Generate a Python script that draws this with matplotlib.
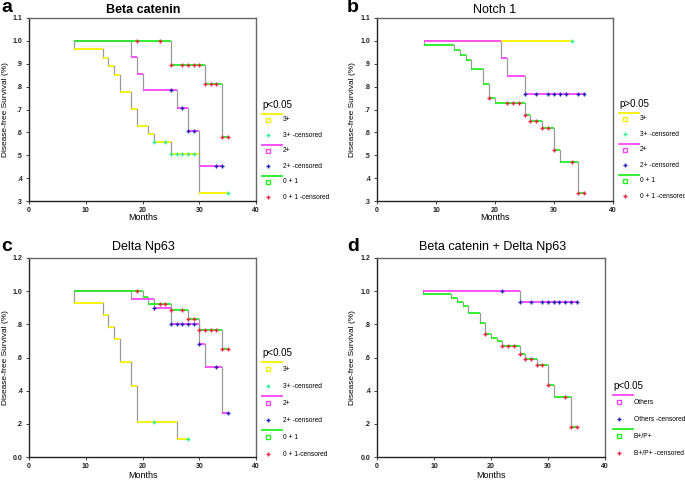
import matplotlib
matplotlib.use("Agg")
import matplotlib.pyplot as plt
from matplotlib.lines import Line2D

plt.rcParams['font.family'] = ['Liberation Sans', 'DejaVu Sans']

# dados: tempos dos eventos, sobrevida depois de cada evento, tempos censurados
inicio = 8

# a - Beta catenin
aAmareloT = [8, 13, 14, 15, 16, 18, 19, 21, 22, 25, 30]
aAmareloS = [0.963, 0.926, 0.889, 0.852, 0.778, 0.704, 0.630, 0.593, 0.556, 0.505, 0.337]
aAmareloC = [22, 24, 25, 26, 27, 28, 29, 35]
aRosaT = [18, 19, 20, 26, 28, 30]
aRosaS = [0.929, 0.857, 0.786, 0.707, 0.606, 0.453]
aRosaC = [25, 27, 28, 29, 33, 34]
aVerdeT = [25, 31, 34]
aVerdeS = [0.895, 0.812, 0.580]
aVerdeC = [19, 23, 25, 27, 28, 29, 30, 31, 32, 33, 34, 35]

# b - Notch 1
bAmareloT = []
bAmareloS = []
bAmareloC = [33]
bRosaT = [21, 22, 25]
bRosaS = [0.923, 0.846, 0.769]
bRosaC = [25, 27, 29, 30, 31, 32, 34, 35]
bVerdeT = [8, 13, 14, 15, 16, 18, 19, 20, 25, 26, 28, 30, 31, 34]
bVerdeS = [0.980, 0.959, 0.938, 0.917, 0.875, 0.812, 0.750, 0.728, 0.677, 0.651, 0.618, 0.523, 0.471, 0.336]
bVerdeC = [19, 22, 23, 24, 25, 26, 27, 28, 29, 30, 33, 34, 35]

# c - Delta Np63
cAmareloT = [8, 13, 14, 15, 16, 18, 19, 26]
cAmareloS = [0.929, 0.857, 0.786, 0.714, 0.571, 0.429, 0.214, 0.107]
cAmareloC = [22, 28]
cRosaT = [18, 22, 25, 30, 31, 34]
cRosaS = [0.950, 0.900, 0.800, 0.680, 0.544, 0.267]
cRosaC = [22, 25, 26, 27, 28, 29, 30, 33, 35]
cVerdeT = [20, 21, 25, 28, 30, 34]
cVerdeS = [0.963, 0.925, 0.885, 0.830, 0.763, 0.654]
cVerdeC = [19, 23, 24, 25, 27, 28, 29, 30, 31, 32, 33, 34, 35]

# d - Beta catenin + Delta Np63
dRosaT = [25]
dRosaS = [0.933]
dRosaC = [22, 25, 27, 29, 30, 31, 32, 33, 34, 35]
dVerdeT = [8, 13, 14, 15, 16, 18, 19, 20, 21, 22, 25, 26, 28, 30, 31, 34]
dVerdeS = [0.980, 0.957, 0.935, 0.913, 0.870, 0.807, 0.742, 0.718, 0.698, 0.671, 0.622, 0.593, 0.554, 0.432, 0.359, 0.178]
dVerdeC = [19, 22, 23, 24, 25, 26, 27, 28, 29, 30, 33, 34, 35]

# nomes da legenda (grupo, grupo censurado)
legendaABC = [('3+', '3+ -censored'), ('2+', '2+ -censored'), ('0 + 1', '0 + 1 -censored')]
legendaC = [('3+', '3+ -censored'), ('2+', '2+ -censored'), ('0 + 1', '0 + 1-censored')]
legendaD = [('Others', 'Others -censored'), ('B+/P+', 'B+/P+ -censored')]

AMARELO = '#f2f200'
ROSA = '#ff44ff'
VERDE = '#22ee22'
CIANO = '#33ee99'
AZUL = '#2222bb'
VERMELHO = '#ee2244'
CINZA = '#9a9a9a'

W, H = 685, 480


# converte pixel da imagem para fração da figura
def fx(x):
    return x / W


def fy(y):
    return 1 - y / H


# desenha uma curva de Kaplan-Meier em degraus
def curva(ax, tempos, sobrevida, censura, cor, corCensura):
    fim = max(list(tempos) + list(censura))
    xs = [inicio] + list(tempos)
    ys = [1.0] + list(sobrevida)
    for i in range(len(xs)):
        proximo = xs[i + 1] if i + 1 < len(xs) else fim
        ax.plot([xs[i], proximo], [ys[i], ys[i]], color=cor, lw=1.3, solid_capstyle='butt', zorder=3)
        if i > 0:
            ax.plot([xs[i], xs[i]], [ys[i - 1], ys[i]], color=CINZA, lw=0.9, zorder=2)
    for c in censura:
        s = 1.0
        for t, v in zip(tempos, sobrevida):
            if t <= c:
                s = v
        ax.plot(c, s, marker='+', color=corCensura, ms=3.3, mew=1.0, zorder=4)


def eixo(rect, ymin, ymax, yticks, ylabels, titulo, letra, negrito, xlabelY, tituloXY, letraXY, ylabelX):
    ax = fig.add_axes(rect)
    ax.set_xlim(0, 40)
    ax.set_ylim(ymin, ymax)
    ax.set_xticks([0, 10, 20, 30, 40])
    ax.set_yticks(yticks)
    ax.set_yticklabels(ylabels)
    ax.tick_params(labelsize=5, length=2.5, width=0.6, pad=2, colors='#222222')
    for lab in ax.get_xticklabels() + ax.get_yticklabels():
        lab.set_fontweight('bold')
    for lado in ['left', 'bottom']:
        ax.spines[lado].set_color('#222222')
        ax.spines[lado].set_linewidth(1.0)
    for lado in ['top', 'right']:
        ax.spines[lado].set_color('#666666')
        ax.spines[lado].set_linewidth(1.0)
    pos = ax.get_position()
    fig.text(fx(ylabelX), pos.y0 + pos.height / 2, 'Disease-free Survival (%)', fontsize=6,
             rotation=90, ha='center', va='center')
    fig.text(pos.x0 + pos.width / 2, fy(xlabelY), 'Months', fontsize=6.5, ha='center', va='center')
    fig.text(fx(tituloXY[0]), fy(tituloXY[1]), titulo, fontsize=9,
             fontweight='bold' if negrito else 'normal', ha='center', va='center')
    fig.text(fx(letraXY[0]), fy(letraXY[1]), letra, fontsize=14, fontweight='bold', ha='center', va='center')
    return ax


# legenda no estilo SPSS
def legenda(x0, y0, ptexto, nomes, cores, passo):
    fig.text(fx(x0), fy(y0), ptexto, fontsize=7, va='center', ha='left')
    y = y0 + passo * 0.55
    for (nome, nomeCensura), (cor, corCensura) in zip(nomes, cores):
        fig.add_artist(Line2D([fx(x0), fx(x0 + 20)], [fy(y), fy(y)], color=cor, lw=1.3))
        y += passo * 0.4
        fig.add_artist(Line2D([fx(x0 + 6)], [fy(y)], marker='s', ms=2.5, mfc='none', mec=cor, mew=1))
        fig.text(fx(x0 + 21), fy(y), nome, fontsize=4.8, va='center', ha='left')
        y += passo
        fig.add_artist(Line2D([fx(x0 + 6)], [fy(y)], marker='+', ms=3.3, color=corCensura, mew=1))
        fig.text(fx(x0 + 21), fy(y), nomeCensura, fontsize=4.8, va='center', ha='left')
        y += passo * 0.6


fig = plt.figure(figsize=(6.85, 4.8), dpi=100)

ticksA = [0.3, 0.4, 0.5, 0.6, 0.7, 0.8, 0.9, 1.0, 1.1]
labelsA = ['.3', '.4', '.5', '.6', '.7', '.8', '.9', '1.0', '1.1']
ticksC = [0.0, 0.2, 0.4, 0.6, 0.8, 1.0, 1.2]
labelsC = ['0.0', '.2', '.4', '.6', '.8', '1.0', '1.2']
cores3 = [(AMARELO, CIANO), (ROSA, AZUL), (VERDE, VERMELHO)]
cores2 = [(ROSA, AZUL), (VERDE, VERMELHO)]

axA = eixo([fx(29), fy(201), fx(227), 183 / H], 0.3, 1.1, ticksA, labelsA, 'Beta catenin', 'a', True,
           218, (143, 10), (7, 8), 6)
curva(axA, aAmareloT, aAmareloS, aAmareloC, AMARELO, CIANO)
curva(axA, aRosaT, aRosaS, aRosaC, ROSA, AZUL)
curva(axA, aVerdeT, aVerdeS, aVerdeC, VERDE, VERMELHO)
legenda(262, 105, 'p<0.05', legendaABC, cores3, 15.5)

axB = eixo([fx(377), fy(201), fx(236), 183 / H], 0.3, 1.1, ticksA, labelsA, 'Notch 1', 'b', False,
           218, (495, 10), (353, 8), 353)
curva(axB, bAmareloT, bAmareloS, bAmareloC, AMARELO, CIANO)
curva(axB, bVerdeT, bVerdeS, bVerdeC, VERDE, VERMELHO)
curva(axB, bRosaT, bRosaS, bRosaC, ROSA, AZUL)
legenda(619, 104, 'p>0.05', legendaABC, cores3, 15.5)

axC = eixo([fx(29), fy(457), fx(227), 199 / H], 0.0, 1.2, ticksC, labelsC, 'Delta Np63', 'c', False,
           476, (143, 247), (7, 247), 6)
curva(axC, cAmareloT, cAmareloS, cAmareloC, AMARELO, CIANO)
curva(axC, cRosaT, cRosaS, cRosaC, ROSA, AZUL)
curva(axC, cVerdeT, cVerdeS, cVerdeC, VERDE, VERMELHO)
legenda(262, 353, 'p<0.05', legendaC, cores3, 17)

axD = eixo([fx(377), fy(457), fx(228), 199 / H], 0.0, 1.2, ticksC, labelsC, 'Beta catenin + Delta Np63', 'd', False,
           476, (493, 247), (353, 247), 353)
curva(axD, dVerdeT, dVerdeS, dVerdeC, VERDE, VERMELHO)
curva(axD, dRosaT, dRosaS, dRosaC, ROSA, AZUL)
legenda(613, 386, 'p<0.05', legendaD, cores2, 17)

fig.savefig('out.png', dpi=100)
